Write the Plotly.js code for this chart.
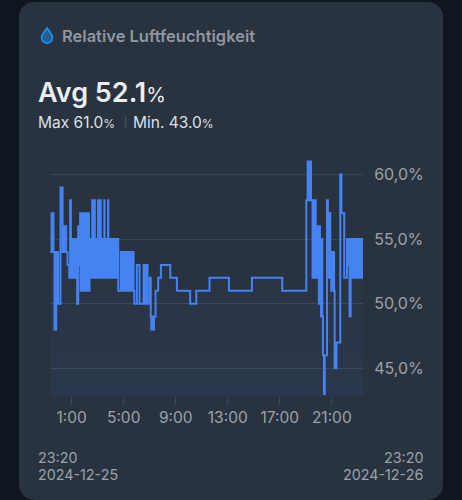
<!DOCTYPE html>
<html><head><meta charset="utf-8">
<script src="https://cdn.plot.ly/plotly-3.0.1.min.js"></script>
<style>
html,body{margin:0;padding:0;width:462px;height:500px;overflow:hidden;background:#0e1620}
#card{position:absolute;left:19px;top:2px;width:424px;height:498px;border-radius:15px;background:#29323f}
#plot{position:absolute;left:0;top:0;width:462px;height:500px}
#drop{position:absolute;left:40px;top:27px}
</style></head><body>
<div id="card"></div>
<div id="plot"></div>
<svg id="drop" width="14" height="17" viewBox="0 0 14 17"><path d="M7 1C5 4 1.5 7.2 1.5 10.6a5.5 5.5 0 0 0 11 0C12.5 7.2 9 4 7 1Z" fill="#1f5f96" stroke="#1e90f0" stroke-width="1.6"/></svg>
<script>
var title = "Relative Luftfeuchtigkeit";
var yTicks = [45, 50, 55, 60];
var yTickLabels = ["45,0%", "50,0%", "55,0%", "60,0%"];
var xTicks = [1, 5, 9, 13, 17, 21];
var xTickLabels = ["1:00", "5:00", "9:00", "13:00", "17:00", "21:00"];
// hours relative to midnight 2024-12-26
var hours = [
-0.65,-0.55,-0.40,-0.32,-0.19,-0.04,0.14,0.30,0.42,0.58,0.68,0.81,0.88,0.94,
1.01,1.06,1.11,1.16,1.21,1.26,1.31,1.36,1.42,1.50,1.56,
1.65,1.69,1.73,1.77,1.81,1.85,1.89,1.93,1.97,2.01,2.05,2.09,2.13,2.17,2.21,2.25,2.29,2.33,
2.37,2.41,2.45,2.49,
2.58,2.62,2.66,2.70,2.74,2.78,2.80,2.83,
2.87,2.91,2.95,
3.02,3.06,3.10,3.14,3.18,3.24,3.27,3.29,
3.31,3.35,3.39,3.43,
3.47,3.51,3.53,3.59,
3.63,3.67,3.71,3.75,
3.80,3.82,
3.89,3.93,3.97,4.01,4.05,4.09,4.13,4.17,4.21,4.25,4.29,4.33,4.37,4.41,4.45,4.49,4.53,4.58,
4.78,4.82,4.86,4.90,4.94,4.98,5.02,5.06,5.10,5.14,5.18,5.22,5.26,5.30,5.34,5.38,5.42,5.48,
5.63,5.76,5.81,6.01,6.22,6.53,6.60,6.72,6.83,7.00,7.08,7.12,7.20,7.26,7.33,7.45,7.65,7.86,8.58,9.09,10.11,10.58,11.60,13.09,14.86,17.19,
19.04,19.14,19.20,19.26,19.32,19.36,19.40,19.52,19.56,19.60,19.64,19.68,19.72,19.76,
19.81,19.85,19.89,19.93,19.97,20.01,20.05,20.09,20.13,20.17,20.22,20.27,
20.32,20.40,20.46,20.63,20.70,20.78,20.88,20.96,
21.00,21.06,21.12,21.18,21.22,21.26,21.30,21.36,21.65,21.74,21.96,
22.17,22.21,22.25,22.29,22.33,22.37,22.45,22.49,
22.53,22.57,22.61,22.65,22.69,22.73,22.77,22.81,22.85,22.89,22.93,22.97,23.01,23.05,23.09,23.13,23.17,23.21,23.25,23.29,23.33,23.40];
var humidity = [
54,57,54,48,54,50,59,54,56,54,53,52,58,52,
55,52,55,52,55,52,55,52,50,56,53,
57,51,57,51,57,51,57,51,57,51,57,51,57,51,57,51,57,51,
55,52,55,52,
58,52,58,52,58,52,55,52,
55,52,55,
58,52,58,52,58,52,55,52,
55,52,55,52,
55,58,52,55,
55,52,55,52,
58,52,
55,52,55,52,55,52,55,52,55,52,55,52,55,52,55,52,55,51,
54,51,54,51,54,51,54,51,54,51,54,51,54,51,54,51,54,51,
54,51,50,53,50,53,50,53,50,52,49,48,49,48,49,51,52,53,52,51,50,51,52,51,52,51,
58,61,58,61,58,61,58,52,58,52,58,52,58,52,
56,52,56,52,56,50,56,50,55,49,55,49,
46,43,46,58,52,57,52,51,
54,51,54,51,45,47,45,47,60,57,52,
55,53,55,53,55,49,55,52,
55,52,55,52,55,52,55,52,55,52,55,52,55,52,55,52,55,52,55,52,55,55];

var L = 50, R = 363, T = 160, B = 396, W = 462, H = 500;
function note(text, x, y, size, color, anchor, weight) {
  return {text: text, xref: "paper", yref: "paper", x: (x - L) / (R - L), y: (B - y) / (B - T),
    xanchor: anchor || "left", yanchor: "middle", showarrow: false, borderpad: 0, borderwidth: 0,
    font: {family: "Inter, sans-serif", size: size, color: color, weight: weight || 400}};
}
var soft = "#9aa2ac";
Plotly.newPlot("plot", [{
  x: hours, y: humidity, type: "scatter", mode: "lines",
  line: {shape: "hv", color: "#4583f3", width: 2},
  fill: "tozeroy",
  fillgradient: {type: "vertical", start: 58, stop: 43,
    colorscale: [[0, "rgba(60,110,220,0)"], [1, "rgba(60,110,220,0.08)"]]},
  hoverinfo: "skip"
}], {
  width: W, height: H, showlegend: false,
  paper_bgcolor: "rgba(0,0,0,0)", plot_bgcolor: "rgba(0,0,0,0)",
  margin: {l: L, r: W - R, t: T, b: H - B, pad: 0},
  xaxis: {range: [-0.667, 23.4], tickmode: "array", tickvals: xTicks, ticktext: xTickLabels,
    ticks: "outside", ticklen: 7, tickwidth: 1, tickcolor: "#414b58",
    showgrid: false, zeroline: false, showline: false,
    tickfont: {family: "Inter, sans-serif", size: 15.5, color: soft}},
  yaxis: {range: [42.85, 61.12], side: "right", tickmode: "array", tickvals: yTicks, ticktext: yTickLabels,
    ticks: "outside", ticklen: 7, tickcolor: "rgba(0,0,0,0)",
    showgrid: true, gridcolor: "#3b4655", gridwidth: 1, zeroline: false, showline: false,
    tickfont: {family: "Inter, sans-serif", size: 16, color: soft}},
  annotations: [
    note(title, 62, 36, 16.5, "#8f97a1", "left", 600),
    note('Avg 52.1<span style="font-size:20px;font-weight:400">%</span>', 38, 92, 27, "#eceef1", "left", 600),
    note('Max 61.0<span style="font-size:12px">%</span>', 38, 122, 15.5, "#dde0e4"),
    note('|', 124, 122, 10, "#5a6472"),
    note('Min. 43.0<span style="font-size:12px">%</span>', 133, 122, 15.5, "#dde0e4"),
    note("23:20", 38, 457, 14.3, soft),
    note("2024-12-25", 38, 474, 14.3, soft),
    note("23:20", 423, 457, 14.3, soft, "right"),
    note("2024-12-26", 423, 474, 14.3, soft, "right")
  ]
}, {staticPlot: true, displayModeBar: false});
</script>
</body></html>
